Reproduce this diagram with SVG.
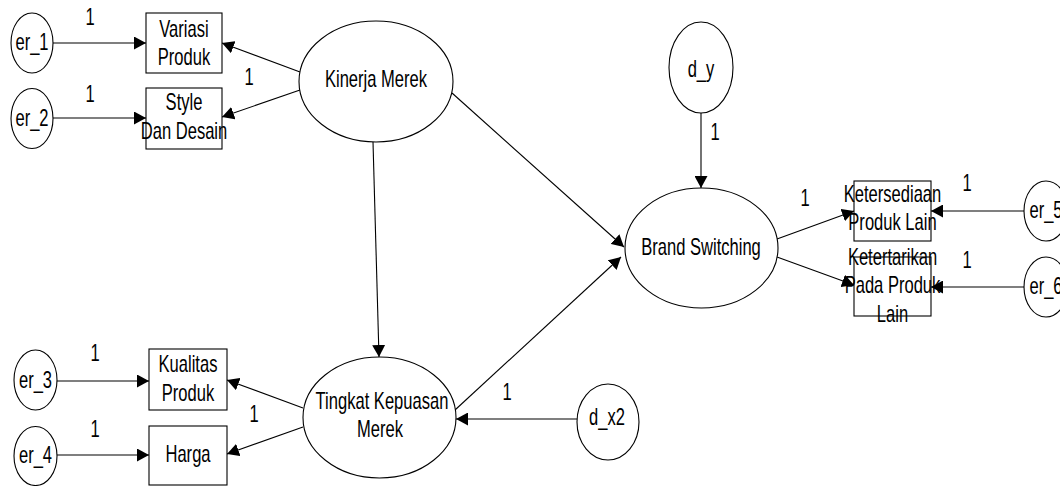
<svg xmlns="http://www.w3.org/2000/svg" width="1060" height="486" viewBox="0 0 1060 486">
<defs>
<marker id="ah" markerUnits="userSpaceOnUse" markerWidth="13" markerHeight="13" refX="12" refY="6.5" orient="auto" viewBox="0 0 13 13">
<path d="M0,0 L12,6.5 L0,13 z" fill="#000"/>
</marker>
<style>
.n{fill:#fff;stroke:#000;stroke-width:1.1}
.c line{stroke:#000;stroke-width:1.1;marker-end:url(#ah)}
text{font-family:"Liberation Sans",Arial,sans-serif;font-size:23px;fill:#000;text-anchor:middle}
</style>
</defs>
<rect width="1060" height="486" fill="#fff"/>
<g id="connectors" class="c">
<line x1="53" y1="43" x2="146" y2="43"/>
<line x1="53" y1="118" x2="146" y2="118"/>
<line x1="57" y1="381" x2="149" y2="381"/>
<line x1="57" y1="455" x2="149" y2="455"/>
<line x1="300" y1="72" x2="222" y2="43"/>
<line x1="300" y1="90" x2="222" y2="117"/>
<line x1="373" y1="142" x2="379" y2="357"/>
<line x1="452" y1="93" x2="624" y2="247"/>
<line x1="455" y1="410" x2="621" y2="257"/>
<line x1="303" y1="408" x2="227" y2="380"/>
<line x1="303" y1="427" x2="227" y2="454"/>
<line x1="701" y1="113" x2="701" y2="188"/>
<line x1="577" y1="419" x2="456" y2="419"/>
<line x1="777" y1="239" x2="854" y2="211"/>
<line x1="777" y1="257" x2="854" y2="285"/>
<line x1="1024" y1="211" x2="931" y2="211"/>
<line x1="1024" y1="287" x2="931" y2="287"/>
</g>
<g id="edge-labels">
<text transform="translate(90,25) scale(0.72,1)">1</text>
<text transform="translate(90,102) scale(0.72,1)">1</text>
<text transform="translate(249,85) scale(0.72,1)">1</text>
<text transform="translate(95,361) scale(0.72,1)">1</text>
<text transform="translate(95,437) scale(0.72,1)">1</text>
<text transform="translate(254,422) scale(0.72,1)">1</text>
<text transform="translate(507,400) scale(0.72,1)">1</text>
<text transform="translate(715,140) scale(0.72,1)">1</text>
<text transform="translate(805,206) scale(0.72,1)">1</text>
<text transform="translate(967,191) scale(0.72,1)">1</text>
<text transform="translate(967,268) scale(0.72,1)">1</text>
</g>
<g id="er_1"><ellipse class="n" cx="32" cy="43" rx="21" ry="30"/><text transform="translate(32,50) scale(0.72,1)">er_1</text></g>
<g id="er_2"><ellipse class="n" cx="32" cy="118.5" rx="21" ry="30"/><text transform="translate(32,126) scale(0.72,1)">er_2</text></g>
<g id="er_3"><ellipse class="n" cx="35.5" cy="380" rx="21.5" ry="30"/><text transform="translate(35.5,388) scale(0.72,1)">er_3</text></g>
<g id="er_4"><ellipse class="n" cx="35.5" cy="456" rx="21.5" ry="29.5"/><text transform="translate(35.5,463) scale(0.72,1)">er_4</text></g>
<g id="er_5"><ellipse class="n" cx="1046" cy="211" rx="22" ry="30"/><text transform="translate(1046,218) scale(0.72,1)">er_5</text></g>
<g id="er_6"><ellipse class="n" cx="1046" cy="287" rx="22" ry="30"/><text transform="translate(1046,294) scale(0.72,1)">er_6</text></g>
<g id="d_y"><ellipse class="n" cx="701" cy="67.5" rx="32" ry="45.5"/><text transform="translate(701,77) scale(0.72,1)">d_y</text></g>
<g id="d_x2"><ellipse class="n" cx="608" cy="422" rx="31" ry="38"/><text transform="translate(607,425) scale(0.72,1)">d_x2</text></g>
<g id="kinerja-merek"><ellipse class="n" cx="376" cy="81.5" rx="77" ry="60.5"/><text transform="translate(376,87) scale(0.72,1)">Kinerja Merek</text></g>
<g id="brand-switching"><ellipse class="n" cx="701.5" cy="248" rx="76.5" ry="60"/><text transform="translate(701,255) scale(0.72,1)">Brand Switching</text></g>
<g id="tingkat-kepuasan-merek"><ellipse class="n" cx="379.5" cy="417.5" rx="76.5" ry="60.5"/><text transform="translate(382,409) scale(0.72,1)">Tingkat Kepuasan</text><text transform="translate(380,437) scale(0.72,1)">Merek</text></g>
<g id="variasi-produk"><rect class="n" x="146" y="13" width="76" height="60"/><text transform="translate(184,37) scale(0.72,1)">Variasi</text><text transform="translate(184,65) scale(0.72,1)">Produk</text></g>
<g id="style-dan-desain"><rect class="n" x="146" y="88" width="76" height="61"/><text transform="translate(184,110) scale(0.72,1)">Style</text><text transform="translate(184,139) scale(0.72,1)">Dan Desain</text></g>
<g id="kualitas-produk"><rect class="n" x="149" y="349" width="78" height="61"/><text transform="translate(188,372) scale(0.72,1)">Kualitas</text><text transform="translate(188,401) scale(0.72,1)">Produk</text></g>
<g id="harga"><rect class="n" x="149" y="426" width="78" height="59"/><text transform="translate(188,462) scale(0.72,1)">Harga</text></g>
<g id="ketersediaan-produk-lain"><rect class="n" x="854" y="181" width="77" height="60"/><text transform="translate(892.5,202) scale(0.72,1)">Ketersediaan</text><text transform="translate(892.5,230) scale(0.72,1)">Produk Lain</text></g>
<g id="ketertarikan-pada-produk-lain"><rect class="n" x="854" y="257" width="77" height="59"/><text transform="translate(892.5,265) scale(0.72,1)">Ketertarikan</text><text transform="translate(892.5,293) scale(0.72,1)">Pada Produk</text><text transform="translate(892.5,322) scale(0.72,1)">Lain</text></g>
</svg>
